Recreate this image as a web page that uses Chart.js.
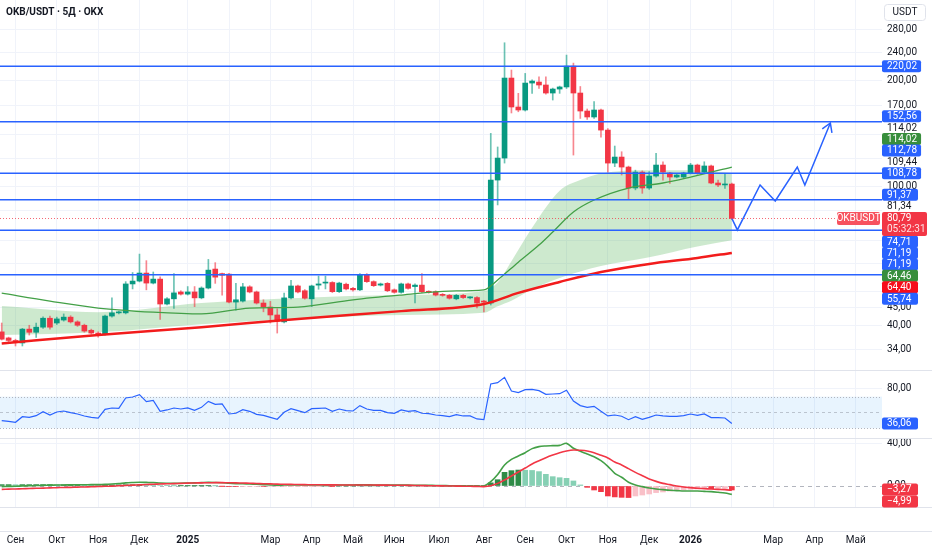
<!DOCTYPE html>
<html lang="ru">
<head>
<meta charset="utf-8">
<title>OKB/USDT · 5Д · OKX</title>
<script src="https://cdn.jsdelivr.net/npm/chart.js@4.4.1/dist/chart.umd.min.js"></script>
<style>
  html, body { margin: 0; padding: 0; background: #fff; }
  #wrap { position: relative; width: 932px; height: 550px; overflow: hidden; }
  canvas { position: absolute; left: 0; }
</style>
</head>
<body>
<div id="wrap">
  <canvas id="priceChart" width="932" height="370" style="top:0;width:932px;height:370px"></canvas>
  <canvas id="rsiChart" width="932" height="68" style="top:370px;width:932px;height:68px"></canvas>
  <canvas id="macdChart" width="932" height="112" style="top:438px;width:932px;height:112px"></canvas>
</div>
<script>
// свечи 5Д, по порядку (индекс = номер свечи)
const candleOpen = [38.3,36.8,36.2,35.6,39.0, 38.2,39.5,41.9,40.6,41.4, 42.2,40.9,40.0,38.7,38.0, 37.7,42.5,43.4,43.4,52.5,
  53.5,56.4,52.8,54.2,46.0, 47.6,49.8,49.1,49.8,47.9, 51.1,57.9,56.2,56.0,46.6, 46.9,51.5,49.8,46.3,45.1,
  42.8,40.9,47.9,51.8,50.2, 47.6,52.1,52.8,53.0,49.9, 52.4,51.0,50.5,55.9,53.3, 52.1,52.7,50.5,49.7,52.5,
  51.6,52.1,49.9,49.9,49.0, 48.7,47.6,48.7,47.9,48.0, 46.8,46.3,104.0,120.2,203.5, 168.2,164.9,196.9,198.2,194.4,
  184.4,189.3,191.9,220.1,184.4, 163.8,157.5,164.9,144.5,116.3, 121.0,113.3,98.7,109.6,98.7, 106.8,114.8,108.9,106.1,106.1,
  108.9,114.8,109.6,114.1,102.0, 100.7,101.3];
const candleHigh = [40.6,37.0,36.5,39.2,40.0, 40.6,42.3,42.5,42.2,43.1, 42.6,41.2,40.3,39.0,38.3, 42.8,47.9,43.9,53.3,56.6,
  63.9,61.2,56.8,55.0,48.0, 56.2,50.2,51.6,51.6,51.5, 61.7,60.4,56.4,56.3,52.7, 52.7,51.9,50.1,47.3,46.8,
  44.6,49.4,53.8,52.1,50.6, 52.1,55.3,55.3,53.3,53.1, 52.8,51.3,56.2,56.2,53.6, 52.8,53.0,50.8,52.8,52.8,
  52.5,56.2,50.2,50.2,49.3, 49.0,49.0,49.0,48.3,48.3, 47.1,141.4,129.3,256.7,214.5, 184.0,209.8,201.0,205.2,205.2,
  190.5,193.0,236.7,224.5,192.5, 166.0,174.3,166.0,146.0,130.1, 125.3,114.0,111.0,110.5,109.9, 124.0,117.3,109.5,108.0,109.5,
  116.1,115.5,117.3,114.8,104.0, 108.7,102.0];
const candleLow = [36.3,35.9,34.9,34.9,37.5, 36.9,39.2,39.0,40.2,41.1, 40.6,39.7,38.2,37.7,37.0, 37.5,42.2,43.1,43.1,50.8,
  53.2,50.5,52.5,41.6,45.7, 44.7,48.8,48.8,45.2,47.6, 50.8,52.7,48.8,46.3,44.2, 46.6,49.5,46.0,43.7,40.6,
  38.0,40.6,47.6,49.5,47.5, 45.2,50.7,50.8,49.6,49.6, 50.5,50.1,50.2,53.0,51.6, 51.8,49.9,49.4,49.4,50.7,
  46.3,49.6,49.4,48.5,48.4, 47.5,47.3,47.7,47.6,44.8, 43.7,45.7,88.3,116.3,161.7, 163.0,163.8,184.0,190.0,183.0,
  176.1,184.0,190.0,122.6,156.0, 155.0,156.0,138.0,109.6,113.6, 107.5,91.6,97.5,95.3,97.8, 106.0,104.0,101.8,105.5,105.5,
  108.2,108.0,109.0,101.5,99.6, 98.5,80.3];
const candleClose = [36.5,36.2,35.9,39.0,38.2, 39.5,41.9,39.5,41.7,42.2, 40.9,40.0,38.5,38.0,37.7, 42.5,43.4,43.6,52.5,53.5,
  56.4,52.8,54.2,46.0,47.6, 49.5,49.1,49.8,47.9,51.1, 57.5,54.9,55.6,46.6,47.3, 51.5,49.8,46.3,45.1,42.8,
  41.1,47.9,51.8,49.8,47.8, 51.8,52.5,53.0,49.9,52.8, 50.8,50.5,55.9,53.3,51.9, 52.5,50.2,49.7,52.5,51.0,
  52.1,49.9,49.7,48.8,48.7, 47.8,48.7,48.0,48.0,46.3, 46.6,104.0,120.2,203.5,168.2, 164.9,196.9,199.5,194.4,184.4,
  189.3,191.9,220.1,184.4,163.8, 157.5,164.9,144.5,116.3,121.0, 113.3,98.7,109.6,98.7,106.8, 114.8,109.6,106.1,107.5,108.9,
  114.8,108.9,114.1,102.0,100.7, 101.3,80.79];

// скользящие средние и облако (точки: номер свечи -> цена)
const maGreenIdx = [0,7,14,22,29,36,43,51,58,65,70,72,75,78,80,83,86,91,96,100,106];
const maGreenVal = [49.4,46.9,44.8,43.6,43.1,44.8,45.1,47.3,48.8,50.1,50.5,53.9,60.6,67.8,73.9,84.3,91.2,98.7,102.0,106.1,113.3];
const maRedIdx = [0,14,29,43,58,70,75,81,87,94,101,106];
const maRedVal = [35.5,37.5,39.5,41.7,43.9,46.0,49.5,53.2,56.8,59.9,62.3,64.4];
const cloudIdx = [0,14,29,43,58,70,72,74,77,81,84,87,94,101,106];
const cloudTopVal = [45.4,43.6,46.3,47.9,48.8,50.1,53.0,61.0,76.0,97.0,104.0,108.5,111.0,111.0,109.0];
const cloudBotVal = [37.5,38.2,40.3,41.7,42.8,43.4,45.3,47.0,50.7,54.6,57.0,59.1,62.6,67.2,70.0];

// прогноз (синяя стрелка)
const projIdx = [106,106.8,110.1,112.3,115.5,116.6,120.3];
const projVal = [80.8,74.9,100.7,90.6,113.3,100.7,151.4];

// горизонтальные уровни
const levelPrices = [220.02, 152.56, 108.78, 91.37, 74.71, 55.74];

// RSI
const rsiValues = [39.7,38.8,37.6,44.7,43.9, 46.0,51.1,46.8,50.6,51.9, 49.8,48.1,45.6,43.9,43.0, 54.0,55.7,55.3,68.4,69.6,
  72.6,63.7,65.4,51.5,53.2, 55.7,54.4,55.7,52.7,56.5, 64.1,60.3,60.8,48.1,49.0, 53.6,51.5,47.7,46.4,43.9,
  41.4,50.2,54.9,52.3,49.8, 54.9,55.3,55.7,51.5,54.4, 52.3,51.9,58.7,54.4,52.7, 52.7,49.8,49.0,53.2,51.5,
  52.3,49.0,48.5,46.8,46.0, 44.7,47.3,45.6,45.6,41.8, 40.9,86.1,87.8,94.5,77.2, 75.1,78.9,79.3,77.6,73.0,
  73.4,73.8,78.1,64.6,58.7, 56.5,57.8,51.5,45.6,46.8, 45.2,40.9,44.7,41.4,43.9, 46.8,45.6,45.2,45.2,46.0,
  48.1,46.4,48.1,43.5,43.5, 43.0,36.06];

// MACD
const macdLine = [-0.6,-0.4,-0.3,0.0,0.2, 0.4,0.6,0.8,0.9,1.0, 1.1,1.2,1.2,1.3,1.3, 1.5,1.9,2.4,3.0,3.3,
  3.5,3.4,3.3,2.8,2.6, 2.5,2.6,2.8,3.0,3.2, 3.4,3.3,3.1,2.6,2.3, 2.1,1.9,1.6,1.3,1.0,
  0.8,0.9,1.0,1.0,1.0, 1.0,1.1,1.1,1.0,1.0, 1.0,1.0,1.2,1.1,1.0, 0.9,0.9,0.8,0.8,0.8,
  0.7,0.7,0.6,0.5,0.4, 0.3,0.2,0.1,0.0,-0.1, 0.0,4.1,11.0,20.0,25.4, 28.6,31.7,35.6,37.5,38.1,
  38.4,38.7,40.6,35.9,33.0, 30.5,27.9,24.1,18.7,12.1, 8.3,3.5,1.0,-0.6,-1.9, -2.9,-3.5,-4.1,-4.4,-4.8,
  -4.8,-4.8,-5.1,-5.4,-6.0, -6.7,-8.0];
const macdSignal = [-3.2,-3.0,-2.8,-2.6,-2.4, -2.2,-2.0,-1.8,-1.6,-1.4, -1.3,-1.1,-0.9,-0.7,-0.5, -0.3,-0.1,0.2,0.5,0.8,
  1.1,1.4,1.7,1.9,2.1, 2.3,2.5,2.7,2.9,3.0, 3.1,3.2,3.2,3.1,3.0, 2.8,2.6,2.4,2.2,2.0,
  1.8,1.6,1.5,1.4,1.3, 1.2,1.2,1.1,1.1,1.0, 1.0,1.0,1.0,0.9,0.9, 0.8,0.8,0.7,0.7,0.6,
  0.5,0.4,0.3,0.2,0.1, 0.0,-0.1,-0.2,-0.3,-0.4, -0.6,0.3,2.5,5.7,9.5, 13.3,17.1,21.0,24.1,27.0,
  29.5,31.7,33.3,34.3,34.0, 33.3,31.7,29.2,26.7,22.9, 20.0,16.5,13.0,9.8,6.7, 4.4,2.5,1.3,0.0,-1.0,
  -1.6,-2.2,-2.5,-2.9,-3.2, -3.5,-4.1];
const macdHist = [1.3,1.3,1.2,1.3,1.3, 1.3,1.3,1.3,1.2,1.2, 1.2,1.2,1.1,1.0,0.9, 0.9,1.0,1.1,1.2,1.2,
  1.2,1.0,0.8,0.5,0.3, 0.1,0.1,0.1,0.1,0.1, 0.2,0.1,-0.1,-0.3,-0.4, -0.4,-0.4,-0.4,-0.5,-0.5,
  -0.5,-0.4,-0.3,-0.2,-0.2, -0.1,-0.1,0.0,-0.1,0.0, 0.0,0.0,0.1,0.1,0.1, 0.1,0.1,0.1,0.1,0.1,
  0.1,0.2,0.2,0.2,0.2, 0.2,0.2,0.2,0.2,0.2, 0.4,3.0,6.0,13.0,14.6, 15.2,15.0,14.8,13.7,11.1,
  8.9,7.9,7.3,4.8,1.0, -1.3,-3.8,-5.4,-9.5,-10.4, -10.8,-11.0,-9.5,-8.6,-7.6, -6.3,-5.7,-4.8,-4.4,-3.8,
  -3.2,-2.9,-2.5,-2.6,-2.4, -2.3,-3.8];

// ось времени
const timeTickIdx = [2,8,14,20,27,33,39,45,51,57,63.5,70,76,82,88,94,100,106,112,118,124];
const timeTickLabels = ['Сен','Окт','Ноя','Дек','2025','','Мар','Апр','Май','Июн','Июл','Авг','Сен','Окт','Ноя','Дек','2026','','Мар','Апр','Май'];
const priceTicks = [34,40,45,50,60,70,85,100,120,140,170,200,240,280];
const priceTickShown = [34,40,45,100,170,200,240,280];

// метки на шкале цены (сверху вниз)
const badgeValues = [220.02,152.56,114.02,114.02,112.78,109.44,108.78,91.37,81.34,74.71,71.19,71.19,64.46,64.40,55.74];
const badgeKinds = ['blue','blue','text','green','blue','text','blue','blue','text','blue','blue','blue','green','red','blue'];
const lastPrice = 80.79;
const countdown = '05:32:31';
const rsiLast = 36.06;
const macdBadgeValues = [-3.27, -4.99];

// ---- оформление ----
const UP = '#089981', DOWN = '#f23645', BLUE = '#2962ff', TEXT = '#131722';
const GRID = '#f0f3fa', SEP = '#e0e3eb';
const X_MIN = -0.25, X_MAX = 127.8, AXIS_W = 50;
const FONT = 'Roboto, "Noto Sans", sans-serif';
const badgeColors = { blue: BLUE, green: '#388e3c', red: '#f70d1a', text: null };

Chart.defaults.font.family = FONT;
Chart.defaults.font.size = 10;
Chart.defaults.color = TEXT;
Chart.defaults.animation = false;
Chart.defaults.events = [];
Chart.defaults.plugins.legend.display = false;
Chart.defaults.plugins.tooltip.enabled = false;

const fmt = v => (v < 0 ? '−' : '') + Math.abs(v).toFixed(2).replace('.', ',');

function xAxis(showLabels) {
  return {
    type: 'linear', min: X_MIN, max: X_MAX, offset: false,
    afterBuildTicks: s => { s.ticks = timeTickIdx.map(v => ({ value: v })); },
    afterFit: s => { s.height = showLabels ? 43 : 0; s.paddingLeft = 0; s.paddingRight = 0; },
    border: { display: false },
    grid: { color: GRID, drawTicks: false, offset: false },
    ticks: showLabels ? {
      autoSkip: false, maxRotation: 0, padding: 27, color: TEXT,
      font: c => ({ size: 10, weight: /^\d{4}$/.test(timeTickLabels[c.index] || '') ? 'bold' : 'normal' }),
      callback: (v, i) => timeTickLabels[i]
    } : { display: false }
  };
}

function yAxis(type, min, max, tickVals, shown, gridColor) {
  return {
    type, position: 'right', min, max,
    afterBuildTicks: s => { s.ticks = tickVals.map(v => ({ value: v })); },
    afterFit: s => { s.width = AXIS_W; s.paddingTop = 0; s.paddingBottom = 0; },
    border: { display: false },
    grid: { color: gridColor, drawTicks: false },
    ticks: { padding: 5, color: TEXT, font: { size: 10 }, callback: v => shown.includes(v) ? fmt(v) : '' }
  };
}

function drawBadge(ctx, x, yc, text, bg) {
  ctx.font = '10px ' + FONT;
  const w = Math.max(36, ctx.measureText(text).width + 9);
  if (bg) {
    ctx.fillStyle = bg;
    ctx.beginPath(); ctx.roundRect(x, yc - 6, w, 12, 2); ctx.fill();
    ctx.fillStyle = '#fff';
  } else {
    ctx.fillStyle = TEXT;
  }
  ctx.textAlign = 'left'; ctx.textBaseline = 'middle';
  ctx.fillText(text, x + 5, yc + 0.5);
}

function hLine(ctx, y, x0, x1, color) {
  ctx.strokeStyle = color; ctx.lineWidth = 1;
  ctx.beginPath(); ctx.moveTo(x0, Math.round(y) + 0.5); ctx.lineTo(x1, Math.round(y) + 0.5); ctx.stroke();
}

// ---- основной график ----
const isUp = candleOpen.map((o, i) => candleClose[i] >= o);

const mainDecor = {
  id: 'mainDecor',
  afterDatasetsDraw(chart) {
    const { ctx, chartArea: a, scales: { x, y } } = chart;
    ctx.save();
    // пунктир текущей цены
    ctx.strokeStyle = 'rgba(242,54,69,0.75)'; ctx.lineWidth = 1; ctx.setLineDash([1, 2]);
    const yp = Math.round(y.getPixelForValue(lastPrice)) + 0.5;
    ctx.beginPath(); ctx.moveTo(a.left, yp); ctx.lineTo(a.right, yp); ctx.stroke();
    ctx.setLineDash([]);
    // уровни
    ctx.strokeStyle = BLUE; ctx.lineWidth = 1.5;
    levelPrices.forEach(p => {
      const yy = y.getPixelForValue(p);
      ctx.beginPath(); ctx.moveTo(a.left, yy); ctx.lineTo(a.right, yy); ctx.stroke();
    });
    // наконечник стрелки прогноза
    const n = projIdx.length;
    const x1 = x.getPixelForValue(projIdx[n - 2]), y1 = y.getPixelForValue(projVal[n - 2]);
    const x2 = x.getPixelForValue(projIdx[n - 1]), y2 = y.getPixelForValue(projVal[n - 1]);
    const ang = Math.atan2(y2 - y1, x2 - x1);
    ctx.lineWidth = 1.5;
    ctx.beginPath();
    ctx.moveTo(x2 - 10 * Math.cos(ang - 0.55), y2 - 10 * Math.sin(ang - 0.55));
    ctx.lineTo(x2, y2);
    ctx.lineTo(x2 - 10 * Math.cos(ang + 0.55), y2 - 10 * Math.sin(ang + 0.55));
    ctx.stroke();
    ctx.restore();
  },
  afterDraw(chart) {
    const { ctx, chartArea: a, scales: { y } } = chart;
    ctx.save();
    // раскладка меток, чтобы не налезали друг на друга
    const half = 5.7;
    const yLast = y.getPixelForValue(lastPrice);
    const pos = badgeValues.map(v => y.getPixelForValue(v));
    let bound = yLast - 6.5;
    for (let k = badgeValues.length - 1; k >= 0; k--) {
      if (badgeValues[k] <= lastPrice) continue;
      pos[k] = Math.min(pos[k], bound - half); bound = pos[k] - half;
    }
    bound = yLast + 17.5;
    for (let k = 0; k < badgeValues.length; k++) {
      if (badgeValues[k] > lastPrice) continue;
      pos[k] = Math.max(pos[k], bound + half); bound = pos[k] + half;
    }
    badgeValues.forEach((v, k) => drawBadge(ctx, a.right, pos[k], fmt(v), badgeColors[badgeKinds[k]]));

    // метка текущей цены с таймером
    ctx.fillStyle = DOWN;
    ctx.beginPath(); ctx.roundRect(a.right, yLast - 6.5, 45, 24, 2); ctx.fill();
    ctx.fillStyle = '#fff'; ctx.font = '10px ' + FONT; ctx.textBaseline = 'middle'; ctx.textAlign = 'left';
    ctx.fillText(fmt(lastPrice), a.right + 5, yLast + 0.5);
    ctx.fillStyle = 'rgba(255,255,255,0.85)';
    ctx.fillText(countdown, a.right + 5, yLast + 11.5);
    // плашка тикера
    ctx.fillStyle = '#f7525f';
    ctx.beginPath(); ctx.roundRect(a.right - 45, yLast - 6.5, 43, 13, 2); ctx.fill();
    ctx.fillStyle = '#fff'; ctx.textAlign = 'center';
    ctx.fillText('OKBUSDT', a.right - 23.5, yLast + 0.5);

    // заголовок
    ctx.textAlign = 'left'; ctx.fillStyle = TEXT;
    ctx.font = 'bold 10px ' + FONT;
    ctx.fillText('OKB/USDT · 5Д · OKX', 6, 12);

    // кнопка валюты шкалы
    ctx.strokeStyle = SEP; ctx.lineWidth = 1; ctx.fillStyle = '#fff';
    ctx.beginPath(); ctx.roundRect(884.5, 4.5, 41, 16, 3); ctx.fill(); ctx.stroke();
    ctx.fillStyle = TEXT; ctx.font = '10px ' + FONT; ctx.textAlign = 'center';
    ctx.fillText('USDT', 905, 12.5);
    ctx.restore();
  }
};

new Chart(document.getElementById('priceChart'), {
  type: 'bar',
  data: {
    datasets: [
      { type: 'line', label: 'Прогноз', data: projIdx.map((x, k) => ({ x, y: projVal[k] })),
        borderColor: BLUE, borderWidth: 1.5, pointRadius: 0, tension: 0, order: 0 },
      { type: 'line', label: 'MA красная', data: maRedIdx.map((x, k) => ({ x, y: maRedVal[k] })),
        borderColor: '#f21c1c', borderWidth: 2.5, pointRadius: 0, cubicInterpolationMode: 'monotone', order: 1 },
      { type: 'line', label: 'MA зелёная', data: maGreenIdx.map((x, k) => ({ x, y: maGreenVal[k] })),
        borderColor: '#43a047', borderWidth: 1.3, pointRadius: 0, cubicInterpolationMode: 'monotone', order: 2 },
      { type: 'bar', label: 'Тела', data: candleOpen.map((o, i) => ({ x: i, y: [o, candleClose[i]] })),
        backgroundColor: isUp.map(u => u ? UP : DOWN), barThickness: 5, grouped: false, minBarLength: 1, order: 3 },
      { type: 'bar', label: 'Тени', data: candleLow.map((l, i) => ({ x: i, y: [l, candleHigh[i]] })),
        backgroundColor: isUp.map(u => u ? 'rgba(8,153,129,0.6)' : 'rgba(242,54,69,0.6)'), barThickness: 1, grouped: false, order: 4 },
      { type: 'line', label: 'Облако верх', data: cloudIdx.map((x, k) => ({ x, y: cloudTopVal[k] })),
        borderColor: 'transparent', pointRadius: 0, cubicInterpolationMode: 'monotone',
        fill: '+1', backgroundColor: 'rgba(76,175,80,0.28)', order: 5 },
      { type: 'line', label: 'Облако низ', data: cloudIdx.map((x, k) => ({ x, y: cloudBotVal[k] })),
        borderColor: 'transparent', pointRadius: 0, cubicInterpolationMode: 'monotone', fill: false, order: 6 }
    ]
  },
  options: {
    responsive: false,
    layout: { padding: 0 },
    scales: {
      x: xAxis(false),
      y: yAxis('logarithmic', 29.8, 340.1, priceTicks, priceTickShown, GRID)
    }
  },
  plugins: [mainDecor]
});

// ---- RSI ----
const rsiDecor = {
  id: 'rsiDecor',
  beforeDatasetsDraw(chart) {
    const { ctx, chartArea: a, scales: { y } } = chart;
    const y70 = y.getPixelForValue(70), y30 = y.getPixelForValue(30), y50 = y.getPixelForValue(50);
    ctx.save();
    ctx.fillStyle = 'rgba(33,150,243,0.1)';
    ctx.fillRect(a.left, y70, a.right - a.left, y30 - y70);
    ctx.strokeStyle = '#b2b5be'; ctx.lineWidth = 1; ctx.setLineDash([1, 2]);
    [y70, y30].forEach(v => { ctx.beginPath(); ctx.moveTo(a.left, Math.round(v) + 0.5); ctx.lineTo(a.right, Math.round(v) + 0.5); ctx.stroke(); });
    ctx.strokeStyle = 'rgba(120,123,134,0.4)'; ctx.setLineDash([3, 3]);
    ctx.beginPath(); ctx.moveTo(a.left, Math.round(y50) + 0.5); ctx.lineTo(a.right, Math.round(y50) + 0.5); ctx.stroke();
    ctx.restore();
  },
  afterDraw(chart) {
    const { ctx, chartArea: a, scales: { y } } = chart;
    ctx.save();
    hLine(ctx, 0, 0, chart.width, SEP);
    drawBadge(ctx, a.right, y.getPixelForValue(rsiLast), fmt(rsiLast), BLUE);
    ctx.restore();
  }
};

new Chart(document.getElementById('rsiChart'), {
  type: 'line',
  data: {
    datasets: [{ label: 'RSI', data: rsiValues.map((v, i) => ({ x: i, y: v })),
      borderColor: BLUE, borderWidth: 1.2, pointRadius: 0, tension: 0 }]
  },
  options: {
    responsive: false,
    layout: { padding: 0 },
    scales: { x: xAxis(false), y: yAxis('linear', 17.7, 103.8, [80], [80], GRID) }
  },
  plugins: [rsiDecor]
});

// ---- MACD ----
const histColors = macdHist.map((h, i) => {
  const prev = i > 0 ? macdHist[i - 1] : h;
  if (h >= 0) return h >= prev ? '#2e8b47' : '#86d0b4';
  return h < prev ? '#f23645' : '#f9c0c8';
});

const macdDecor = {
  id: 'macdDecor',
  beforeDatasetsDraw(chart) {
    const { ctx, chartArea: a, scales: { y } } = chart;
    ctx.save();
    ctx.strokeStyle = '#b2b5be'; ctx.lineWidth = 1; ctx.setLineDash([4, 4]);
    const y0 = Math.round(y.getPixelForValue(0)) + 0.5;
    ctx.beginPath(); ctx.moveTo(a.left, y0); ctx.lineTo(a.right, y0); ctx.stroke();
    ctx.restore();
  },
  afterDraw(chart) {
    const { ctx, chartArea: a, scales: { y } } = chart;
    ctx.save();
    hLine(ctx, 0, 0, chart.width, SEP);
    hLine(ctx, a.bottom, 0, chart.width, SEP);
    hLine(ctx, a.bottom + 24, 0, chart.width, SEP);
    let bound = -Infinity;
    macdBadgeValues.forEach(v => {
      const yy = Math.max(y.getPixelForValue(v), bound + 6);
      bound = yy + 6;
      drawBadge(ctx, a.right, yy, fmt(v), DOWN);
    });
    ctx.restore();
  }
};

new Chart(document.getElementById('macdChart'), {
  type: 'bar',
  data: {
    datasets: [
      { type: 'line', label: 'Сигнал', data: macdSignal.map((v, i) => ({ x: i, y: v })),
        borderColor: '#f23645', borderWidth: 1.6, pointRadius: 0, tension: 0.3, order: 0 },
      { type: 'line', label: 'MACD', data: macdLine.map((v, i) => ({ x: i, y: v })),
        borderColor: '#43a047', borderWidth: 1.6, pointRadius: 0, tension: 0.3, order: 1 },
      { type: 'bar', label: 'Гистограмма', data: macdHist.map((v, i) => ({ x: i, y: v })),
        backgroundColor: histColors, barThickness: 5, grouped: false, order: 2 }
    ]
  },
  options: {
    responsive: false,
    layout: { padding: 0 },
    scales: {
      x: xAxis(true),
      y: yAxis('linear', -20, 45.7, [0, 40], [0, 40], c => c.tick && c.tick.value === 0 ? 'transparent' : GRID)
    }
  },
  plugins: [macdDecor]
});
</script>
</body>
</html>
